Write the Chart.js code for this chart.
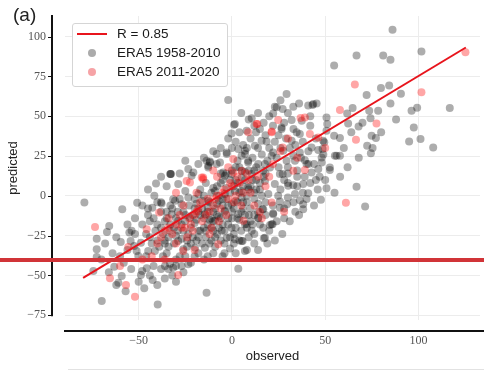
<!DOCTYPE html>
<html>
<head>
<meta charset="utf-8">
<script src="https://cdn.jsdelivr.net/npm/chart.js@4/dist/chart.umd.min.js"></script>
<style>
  html, body { margin: 0; padding: 0; background: #fff; }
  #wrap { position: relative; width: 484px; height: 370px; }
  #panel { position: absolute; left: 13px; top: 4px; font: 19px "Liberation Sans", Arial, sans-serif; color: #222; }
  .legend { position: absolute; left: 72px; top: 23px; width: 154px; height: 62px; border: 1px solid #d5d5d5; border-radius: 3px; background: #fff; font: 13.5px "Liberation Sans", Arial, sans-serif; color: #1a1a1a; }
  .legend .txt { position: absolute; left: 44px; height: 18px; line-height: 18px; white-space: nowrap; }
  .legend .ln { position: absolute; left: 4px; width: 30px; height: 2px; background: #e8141c; }
  .legend .dot { position: absolute; left: 15px; width: 8px; height: 8px; border-radius: 50%; }
</style>
</head>
<body>
<div id="wrap">
  <canvas id="c" width="484" height="370"></canvas>
  <div id="panel">(a)</div>
  <div class="legend">
    <div class="ln" style="top:9px"></div><div class="txt" style="top:1px">R = 0.85</div>
    <div class="dot" style="top:25px;background:#ababab"></div><div class="txt" style="top:20px">ERA5 1958-2010</div>
    <div class="dot" style="top:44px;background:#f6a3a6"></div><div class="txt" style="top:39px">ERA5 2011-2020</div>
  </div>
</div>
<script>
// ERA5 1958-2010 (observed, predicted)
const obsOld = [
  86.1, 66.8, 81.1, 85.0, 101.6, 54.8, 72.2, 79.9, 84.3, 90.6, 116.8, 96.3, 99.3, 64.7, 61.8, 73.6, 78.4, 74.3, 62.3, 67.9,
  97.5, 74.9, 77.2, 72.5, 75.4, 74.5, 95, 101.1, 107.9, 50.7, 51.1, 54.8, 57.9, 55.2, 57.9, 43.6, 45.4, 48.6, 48.9, 52.5, 48.1,
  66.8, 71.4, 50.7, 47.7, 38.2, 40.9, 38.2, 38.2, 36.4, 17.1, 5.7, 20.4, 21.8, 14.1, 22.1, 29.6, 16.4, 7.9, 33.8, 32.9,
  46.3, 52.5, 42.7, 27.2, 30.2, 25.7,
  -79.1, -72.5, -72.5, -72.5, -74.3, -69.8, -60.9, -59.1, -39.8, -42.5, -58.8, -50.8, -65.8, -67, -59.6, -63.1, -55, -53.8,
  -48.8, -48.1, -48.8, -45.7, -42.7, -40.7, -41.6, -37.7, -33.1, -44.9, -41.3, -35.9, -31.5, -51.1, -50.2, -54.3, -52.4,
  -31.5, -13.6, 3.4, -23.4, -33.2, -30, -32.9, -23.4,
  -2, -0.2, 1.1, 10.6, 23, 7.9, -8.2, -13.6, 29.3, 24, 32.9, 22.1, 1.6, 12.9, 15.9, 18.6, 26.6, 32, 37.4, 40.9, 34.7,
  12.3, 22.1, 7, 5.2, 8.7, -2.8, -6.4, -11.8, 3.4, -20.7, 27.5, 29.3, 32.9, 36.4, 40, 16.8, 20.4, -4.7, -0.2, 5.2,
  27.2, 43.2, 50.7, 26.6, 32, 36.4, 49.5, 42.7, 46.3, 33.8, 39.1, 48.1, 56.1, 25.7,
  -32.7, -12.7, -8.2, -2.8, 7, 21.3, 14.1, -28.8, -3.8, 5.2, 10.6, 17.7, 23, 19.5, 24.8, 16.8, 22.1, 25.7, 14.1, 21.3,
  17.7, 5.2, 1.6, -2.8, -14.5, -19.8, -26.1, -12.7, -9.1, -18, -23.4, -27, -30.5, -32.3, -28.8, -22.5, -18, -10.9, -9.1,
  -14.5, -3.8, -0.2, 5.2, 8.7, 1.6, -3.8, 3.4, 7, 10.6, -0.2, -5.5, -23.4, -33.2, -28.8, 7, 16.8, 17.7, 8.7, -21.6, -12.7, -11.8,
  -38, -36, -34, -30, -27, -25, -24, -22, -20, -20, -18, -17, -16, -15, -14, -13, -12, -11, -10, -10, -8, -8, -7, -6, -5,
  -5, -4, -3, -2, -1, 0, 1, 2, 3, 4, 5, 6, 7, 8, 9, 10, 11, 12, 13, 14, 15, -26, -31, -35, -38, -44, -46, -40, -37, -28,
  -20, -15, -10, -5, 2, -45, -33, -25, -14, -6, 2, 12, 18, 25, 28, 30, 34, 28, 12, -1, -7, -19, -29,
  -34, -33, -32, -31, -30, -29, -28, -27, -26, -25,
  -24, -23, -22, -21, -21, -20, -19, -19, -18, -17,
  -17, -16, -16, -15, -15, -14, -13, -13, -12, -12,
  -11, -11, -10, -10, -9, -9, -8, -8, -7, -7,
  -6, -6, -5, -5, -4, -4, -3, -3, -2, -2,
  -1, -1, 0, 0, 1, 1, 2, 2, 3, 3,
  4, 4, 5, 5, 6, 6, 7, 7, 8, 8,
  9, 9, 10, 10, 11, 12, 12, 13, 13, 14,
  15, 15, 16, 17, 18, -36, -37, -39, -41, -42,
  -43, -38, -35, -30, -25, -22, -18, -13, -9, -4,
  1, 4, 9,
  0, 2, 4, 6, 8, 10, 11, 14, 15, 16,
  18, 19, 20, 22, 23, 24, 25, 26, 28, 29,
  30, 31, 33, 34, 35, 37, 38, 39, 41, 42,
  44, 45, 47, 49, 20, 17, 14, 9, 5, 26,
  30, 36, 42, 12, 3, -2, -6, -10, -15, -18,
  -25, -28, -35, -38, -45, -48, -52, -56, -60, -62,
  18, 20, 22, 24, 26, 27, 28, 30, 31, 33,
  35, 36, 38, 40, 42, 44, 46, 19, 23, 12,
  14, 8, 30, 35, 41, 45, 50, 55, 58, 62,
  60, 64, 68, 70, 80, 85, 88,
  -70, -68, -66, -64, -62, -58, -56, -54, -52, -50,
  -48, -46, -44, -42, -40, -38, -36, -34, -32, -57,
  -47, -40, -30, -26, -44, -36, -27, -45, -40, -35
];
const predOld = [
  104.3, 88.2, 88.2, 85.5, 90.7, 81.9, 63.4, 67.8, 69.3, 64.2, 55.2, 53.5, 55.4, 55.2, 51.8, 53.5, 53.5, 48.7, 45.5, 43.5,
  43, 37.8, 36.3, 31.5, 30, 26.7, 34.2, 35.7, 30.4, 49.3, 45.2, 37.8, 36.3, 25.2, 25.2, 57.7, 58.1, 29.4, 34.6, 17.8, 21,
  5.7, -6.7, 4.8, -2.5, 7.4, 1.7, -5.2, -8.4, -2.7, -26.7, -28.3, -18.3, -17.8, -14, -10.9, -5.2, -8.4, -17.8, 1.1, 6.7,
  16.8, 16.2, 14.7, 13.7, 6.3, -3.6,
  -4.2, -26.9, -33.6, -38.4, -47.2, -66.1, -54.6, -50.4, -68.2, -52.9, -8.4, -4.4, -18.9, -22.7, -29, -44.5, -23.1, -22,
  -29.4, -47.2, -49.7, -45.5, -7.4, 7.7, 0, -4.8, 13.7, -34.6, -34.6, -44.1, -45.1, -34.6, -37.8, -28.3, -31.5,
  -2.1, -60.9, -45.8, -43, -42.6, -44.1, 13.7, 16.8,
  60.3, 39.2, 44.7, 48.7, 56, 40.9, 26.3, 22, 64, 55.6, 56, 51.8, 45.1, 39.9, 34.6, 34.2, 42, 47.7, 47.2, 56.7, 39.9,
  31.5, 27.3, 28.3, 25.2, 22, 27.3, 21, 21, 29.4, 14.7, 28.3, 22, 25.2, 27.3, 20, 15.7, 17.8, 14.7, 13.7, 15.7,
  54.6, 57.1, 40.9, 43, 34.6, 38.8, 33.6, 30.4, 28.8, 22, 22.4, 24.1, 25.2, 13.7,
  13.7, 18.9, 20, 26.3, 26.3, 25.2, 20, 7.4, 12.6, 11.5, 13.7, 9.4, 7.4, 1.1, 0, -8.4, -11.5, -7.4, -13.7, -17.8,
  -26.3, -28.3, -27.3, -26.3, -32.6, -32.6, -33.6, -3.1, 3.1, 1.1, -1.1, -5.2, -3.1, -11.5, -15.7, -13.7, -22, -20, -15.7,
  -11.5, -9.4, -5.2, -1.1, 5.2, 3.1, 1.1, -11.5, -17.8, -22, -20, -22, -24.1, -22, -28.3, -34.6, -20, 20, 21, 12.6, 17.8, 21.6,
  -20, -28, -32, -25, -18, -12, -28, -30, -17, -8, -26, -12, -3, -20, -26, -7, -15, -28, -10, 5, -24, -5, -13, 8, -18,
  -2, -30, 5, -14, 10, -10, -24, -3, 8, -15, 3, -8, 15, -4, -12, 6, -18, 2, 10, -5, 4, -22, -20, -14, -10, -16, -24, -28, -38, -38,
  -38, -40, -36, -38, -36, -12, -6, 3, 8, 14, 18, 16, 14, 18, 10, -1, -10, -14, -30, -33, -3, -5, -10,
  -26, -18, -8, -30, -14, -22, -2, -27, -10, -16,
  -32, -6, -20, -26, -12, -2, -28, -15, -10, -22,
  4, -30, -8, -14, 0, -22, -18, -10, -4, -30,
  -14, 2, -22, -16, -8, -26, -12, 6, -20, 0,
  -28, -14, -6, 10, -22, -10, -2, 14, -18, -6,
  2, -26, -14, 16, -8, 6, -20, 10, -4, -14,
  2, 18, -10, -22, 6, -4, 10, -12, 0, -20,
  4, 16, -8, -16, 10, -2, -12, 4, 18, -10,
  8, -18, 0, 12, -4, -16, -24, -32, -22, -14,
  -30, -4, -36, -40, -38, -42, -36, -38, -32, -36,
  -30, -28, -26,
  30, 34, 40, 32, 30, 36, 24, 30, 42, 26,
  38, 22, 30, 44, 34, 24, 38, 30, 46, 36,
  18, 30, 42, 32, 16, 24, 34, 12, 28, 44,
  20, 36, 12, 26, 50, 46, 52, 48, 52, 60,
  52, 58, 50, 44, 22, 36, 30, 28, 24, 20,
  22, 14, 6, 12, 4, -6, -14, -18, -38, -26,
  -12, -22, -6, -16, 4, -24, -8, 8, -16, -4,
  6, -12, 2, -2, 8, -6, 4, -30, -28, -24,
  -34, -34, 14, 12, 20, 10, 10, 2, 12, 18,
  30, 40, 24, 46, 40, 58, 48,
  -40, -30, -48, -36, -56, -42, -34, -46, -24, -54,
  -18, -38, -26, -44, -18, -46, -30, -46, -50, -60,
  -58, -56, -54, -48, -50, -52, -44, -8, -4, -10
];
// ERA5 2011-2020 (observed, predicted)
const obsNew = [
  125.2, 65.9, 101.6, 57.9, 77.5, 66.5, 61.1, 21.3, 32.9, 39.1, -73.4, -65.4, -56.8, -52, -55.6, -45.7, -39, -28.8, -26.1,
  13.2, 24.8, 13.6, 8.7, 21.3, 39.1, 0.7, -15.4, 36.8, 21.3, 41.8, 46.3, 27.2, 0.7, -16.2, -22.5, -7.3, 6.1, -25.2, -34.1,
  5.2, -24.3, -15.4,
  -36, -30, -28, -22, -20, -18, -16, -13, -12, -10, -8, -6, -4, -2, 0, 2, 4, 6, 9, 12, -30, -24, -12, -43, -8, -2, -19, 15, 20, -36,
  -40, -38, -34, -32, -27, -26, -23, -21, -19, -17,
  -14, -11, -9, -7, -5, -3, -1, 1, 3, 5,
  8, 10, 14, 18, 22, 26, 30, -60, -48, -30,
  -10, 16, 35, 50, -20, 28
];
const predNew = [
  90.2, 69.9, 65.1, 54, 45.5, 35.3, -4.4, -4.2, 15.7, 16.2, -19.5, -51.8, -56, -63.4, -32.1, -21, -10.5, -49.7, -34.6,
  45.1, 47.7, 45.1, 39.9, 39.9, 49.3, 23.1, 11.5, 48.9, 40.5, 38.8, 36.7, 30.4, 14.7, 11.5, 8.4, -30.4, -15.7, -20, -20,
  15.7, 9.4, 10.5,
  -22, -18, -12, -18, -12, -8, -16, -2, -10, -6, 0, -8, 4, -2, 6, 0, 8, 2, 10, -6, -30, -26, -24, -38, 12, 18, 2, -10, 12, -40,
  -30, -26, -14, -24, -20, -6, -14, -22, -10, -4,
  -12, -20, -2, -16, 2, -12, 8, -4, 12, -6,
  14, 2, 12, 6, 20, 28, 36, -44, -40, 2,
  16, -14, 24, 30, -34, -10
];
// regression line end points
const fitObs = [-79.8, 125.4];
const fitPred = [-51.6, 93.2];

const xTicks = [-50, 0, 50, 100];
const yTicks = [-75, -50, -25, 0, 25, 50, 75, 100];

const toPts = (xs, ys) => xs.map((v, i) => ({ x: v, y: ys[i] }));
const fmt = v => v < 0 ? '\u2212' + Math.abs(v) : String(v);

const decor = {
  id: 'decor',
  afterDraw(chart) {
    const { ctx, chartArea: a, scales: { y } } = chart;
    ctx.save();
    ctx.strokeStyle = '#111';
    ctx.lineWidth = 2;
    const sx = a.left - 13;
    ctx.beginPath();
    ctx.moveTo(sx, a.top - 1);
    ctx.lineTo(sx, y.getPixelForValue(-75) + 1);
    ctx.stroke();
    ctx.lineWidth = 1;
    y.ticks.forEach(t => {
      const py = Math.round(y.getPixelForValue(t.value)) + 0.5;
      ctx.beginPath();
      ctx.moveTo(sx - 4, py);
      ctx.lineTo(sx, py);
      ctx.stroke();
    });
    ctx.lineWidth = 2;
    ctx.beginPath();
    ctx.moveTo(a.left - 1, a.bottom + 11);
    ctx.lineTo(484, a.bottom + 11);
    ctx.stroke();
    ctx.strokeStyle = '#e2e2e2';
    ctx.lineWidth = 1;
    ctx.beginPath();
    ctx.moveTo(68, 369.5);
    ctx.lineTo(484, 369.5);
    ctx.stroke();
    ctx.fillStyle = '#d13438';
    ctx.fillRect(0, 258, 484, 4);
    ctx.restore();
  }
};

new Chart(document.getElementById('c'), {
  type: 'scatter',
  data: {
    datasets: [
      { label: 'R = 0.85', data: toPts(fitObs, fitPred), showLine: true, borderColor: '#e8141c', borderWidth: 2, pointRadius: 0 },
      { label: 'ERA5 2011-2020', data: toPts(obsNew, predNew), backgroundColor: 'rgba(255,0,0,0.35)', borderWidth: 0, pointRadius: 4 },
      { label: 'ERA5 1958-2010', data: toPts(obsOld, predOld), backgroundColor: 'rgba(0,0,0,0.32)', borderWidth: 0, pointRadius: 4 }
    ]
  },
  options: {
    responsive: false,
    animation: false,
    layout: { padding: { top: 16, right: 0, left: 0, bottom: 0 } },
    plugins: { legend: { display: false }, tooltip: { enabled: false } },
    scales: {
      x: {
        min: -89.5, max: 133,
        afterFit: s => { s.height = 50; s.paddingLeft = 0; s.paddingRight = 0; },
        afterBuildTicks: s => { s.ticks = xTicks.map(v => ({ value: v })); },
        grid: { color: '#ececec', drawTicks: false },
        border: { display: false },
        ticks: { callback: fmt, padding: 14, color: '#555', font: { family: 'Liberation Serif', size: 12 } },
        title: { display: true, text: 'observed', color: '#222', padding: { top: 0, bottom: 6 }, font: { family: 'Liberation Sans', size: 13 } }
      },
      y: {
        min: -78, max: 113,
        afterFit: s => { s.width = 65; s.paddingTop = 0; s.paddingBottom = 0; },
        afterBuildTicks: s => { s.ticks = yTicks.map(v => ({ value: v })); },
        grid: { color: '#ececec', drawTicks: false },
        border: { display: false },
        ticks: { callback: fmt, padding: 19, color: '#555', font: { family: 'Liberation Serif', size: 12 } },
        title: { display: true, text: 'predicted', color: '#222', padding: { top: 6, bottom: 0 }, font: { family: 'Liberation Sans', size: 13 } }
      }
    }
  },
  plugins: [decor]
});
</script>
</body>
</html>
